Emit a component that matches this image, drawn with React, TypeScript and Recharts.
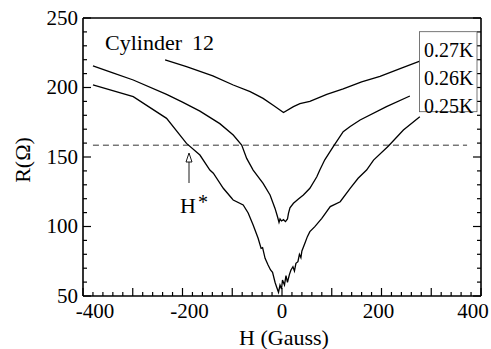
import React from "react";
import {
  LineChart,
  Line,
  XAxis,
  YAxis,
  ReferenceLine,
} from "recharts";

// field (Gauss) and resistance (Ohm)
const h27 = [-235, -192, -139, -98, -64, -38, -17, 3, 23, 36, 56, 90, 123, 160, 197, 240, 277];
const r27 = [219.8, 215, 208.3, 201.8, 197, 192.2, 187, 182, 186.2, 188.4, 190, 195, 199, 204, 208, 214, 219];

const h26 = [
  -380, -340, -299, -232, -200, -165, -125, -98, -81, -71, -58, -38, -24, -14, -9, -6, -4, -1, 3, 7,
  11, 13, 16, 23, 33, 43, 56, 70, 76, 86, 103, 123, 137, 157, 210, 257,
];
const r26 = [
  215.5, 210.5, 205.4, 195, 189.5, 183, 174, 165.8, 158.6, 149, 140.6, 131, 122.7, 113, 107, 103,
  105.4, 104, 104.9, 103.5, 105.4, 109.5, 113.5, 116.7, 119.8, 122.7, 127.5, 135.8, 140.6, 148,
  157.4, 168.2, 172, 176.6, 186.2, 193.9,
];

const h25 = [
  -380, -299, -232, -192, -165, -145, -138, -118, -101, -98, -78, -68, -58, -48, -42, -39, -34,
  -28, -23, -19, -14, -11, -7, -4, -1, 1, 5, 8, 11, 15, 18, 22, 25, 28, 32, 35, 38, 40, 46, 51, 56,
  66, 80, 97, 117, 137, 153, 170, 184, 214, 244, 277,
];
const r25 = [
  201.8, 193.4, 177.8, 159.8, 151.4, 140.6, 138.3, 127.5, 120.3, 119, 115.5, 109.7, 101, 91.5,
  84.3, 84.8, 77.1, 72.3, 68.7, 67, 59.9, 56.7, 52.7, 57.9, 55, 61.5, 57.9, 64.6, 59.9, 65.6, 68.7,
  71.1, 68, 73.5, 74.7, 80, 77.6, 82.4, 87.9, 92.7, 96.3, 99.9, 105.9, 114.3, 117.8, 127.5, 134.7,
  140.6, 147.8, 157.9, 169.4, 179,
];

const hStar = 158.5; // dashed level
const hTicks: number[] = [];
for (let v = -400; v <= 400; v += 20) hTicks.push(v);
const rTicks: number[] = [];
for (let v = 50; v <= 250; v += 10) rTicks.push(v);

const toRows = (h: number[], r: number[]) => h.map((x, i) => ({ h: x, r: r[i] }));
const data27 = toRows(h27, r27);
const data26 = toRows(h26, r26);
const data25 = toRows(h25, r25);

const FONT = "'Liberation Serif', 'Times New Roman', serif";
const INK = "#000";

// labels at the ends sit a little inside the frame, as in the figure
const labelShift = (v: number) => (v === -400 ? 12 : v === 400 ? -8 : v < 0 ? 7 : v > 0 ? -3 : 0);

const BottomTick = (props: any) => {
  const { x, y, payload } = props;
  const v = payload.value;
  const len = v % 100 === 0 ? 8 : 4;
  return (
    <g>
      <line x1={x} x2={x} y1={y} y2={y - len} stroke={INK} strokeWidth={1.2} />
      {v % 200 === 0 && (
        <text x={x + labelShift(v)} y={y + 22} textAnchor="middle" fontSize={21} fontFamily={FONT} fill={INK}>
          {v}
        </text>
      )}
    </g>
  );
};

const TopTick = (props: any) => {
  const { x, y, payload } = props;
  const len = payload.value % 100 === 0 ? 8 : 4;
  return <line x1={x} x2={x} y1={y} y2={y + len} stroke={INK} strokeWidth={1.2} />;
};

const LeftTick = (props: any) => {
  const { x, y, payload } = props;
  const v = payload.value;
  const len = v % 50 === 0 ? 8 : 4;
  return (
    <g>
      <line x1={x} x2={x + len} y1={y} y2={y} stroke={INK} strokeWidth={1.2} />
      {v % 50 === 0 && (
        <text x={x - 5} y={y + 6.5} textAnchor="end" fontSize={21} fontFamily={FONT} fill={INK}>
          {v}
        </text>
      )}
    </g>
  );
};

const RightTick = (props: any) => {
  const { x, y, payload } = props;
  const len = payload.value % 50 === 0 ? 8 : 4;
  return <line x1={x} x2={x - len} y1={y} y2={y} stroke={INK} strokeWidth={1.2} />;
};

const W = 491;
const H = 349;

export default function App() {
  const axisLine = { stroke: INK, strokeWidth: 1.6 };
  return (
    <div style={{ position: "absolute", left: 0, top: 0, width: W, height: H }}>
      <LineChart width={W} height={H} margin={{ top: 17, right: 9, bottom: 52, left: 82 }}>
        <XAxis
          dataKey="h"
          type="number"
          domain={[-400, 400]}
          ticks={hTicks}
          interval={0}
          allowDataOverflow
          height={1}
          tickSize={0}
          tickMargin={0}
          tickLine={false}
          axisLine={axisLine}
          tick={BottomTick}
        />
        <XAxis
          xAxisId="top"
          orientation="top"
          type="number"
          domain={[-400, 400]}
          ticks={hTicks}
          interval={0}
          allowDataOverflow
          height={1}
          tickSize={0}
          tickMargin={0}
          tickLine={false}
          axisLine={axisLine}
          tick={TopTick}
        />
        <YAxis
          type="number"
          domain={[50, 250]}
          ticks={rTicks}
          interval={0}
          allowDataOverflow
          width={1}
          tickSize={0}
          tickMargin={0}
          tickLine={false}
          axisLine={axisLine}
          tick={LeftTick}
        />
        <YAxis
          yAxisId="right"
          orientation="right"
          type="number"
          domain={[50, 250]}
          ticks={rTicks}
          interval={0}
          allowDataOverflow
          width={1}
          tickSize={0}
          tickMargin={0}
          tickLine={false}
          axisLine={axisLine}
          tick={RightTick}
        />
        <ReferenceLine
          segment={[
            { x: -380, y: hStar },
            { x: 372, y: hStar },
          ]}
          stroke={INK}
          strokeWidth={0.8}
          strokeDasharray="6 4"
        />
        <Line data={data27} dataKey="r" type="linear" stroke={INK} strokeWidth={1.3} dot={false} isAnimationActive={false} />
        <Line data={data26} dataKey="r" type="linear" stroke={INK} strokeWidth={1.3} dot={false} isAnimationActive={false} />
        <Line data={data25} dataKey="r" type="linear" stroke={INK} strokeWidth={1.3} dot={false} isAnimationActive={false} />
      </LineChart>
      <svg
        width={W}
        height={H}
        style={{ position: "absolute", left: 0, top: 0, pointerEvents: "none" }}
        fontFamily={FONT}
        fill={INK}
      >
        <text x={105} y={50} fontSize={22}>Cylinder</text>
        <text x={192} y={50} fontSize={22}>12</text>

        <rect x={419.5} y={31.7} width={57.5} height={80} fill="#fff" stroke="#555" strokeWidth={0.8} />
        <text x={424} y={57} fontSize={20}>0.27K</text>
        <text x={424} y={85} fontSize={20}>0.26K</text>
        <text x={424} y={112.5} fontSize={20}>0.25K</text>

        <line x1={189} x2={189} y1={162} y2={183} stroke={INK} strokeWidth={0.9} />
        <polygon points="189,153 186,162 192,162" fill="#fff" stroke={INK} strokeWidth={0.9} />
        <text x={180} y={213} fontSize={22}>H</text>
        <text x={198} y={209} fontSize={20}>*</text>

        <text x={284} y={345} fontSize={22} textAnchor="middle">H (Gauss)</text>
        <text x={29.5} y={160} fontSize={22} textAnchor="middle" transform="rotate(-90 29.5 160)">
          R(Ω)
        </text>
      </svg>
    </div>
  );
}
